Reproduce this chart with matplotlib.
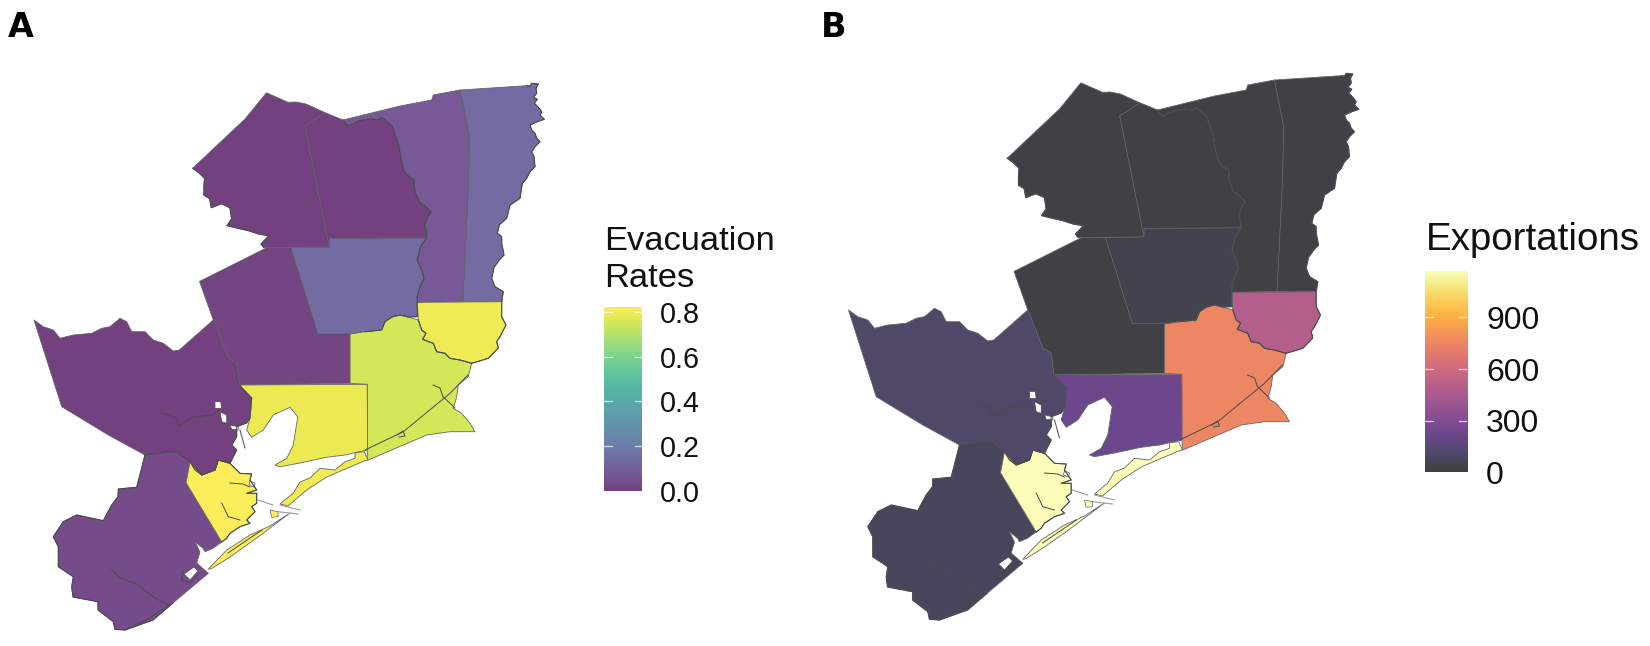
import matplotlib
matplotlib.use("Agg")
import matplotlib.pyplot as plt
import numpy as np
from matplotlib.patches import Polygon
from matplotlib.colors import Normalize

# --- county names and values
counties = ["nw1", "nw2", "col3", "far_east", "central", "west_mid", "west_big",
            "south_west", "brazoria", "bay_east", "jefferson", "orange", "island_w", "island_e"]
evac_rates = [0.0, 0.0, 0.075, 0.14, 0.14, 0.015, 0.0, 0.03, 0.82, 0.79, 0.75, 0.80, 0.82, 0.80]
exportations = [5, 5, 5, 5, 45, 5, 110, 75, 1160, 215, 745, 490, 1160, 1160]
evac_ticks = [0.0, 0.2, 0.4, 0.6, 0.8]
exp_ticks = [0, 300, 600, 900]

# --- shared county borders (map coordinates)
b_nw_top = [(266.4,92.8),(288,102.3),(296,102),(306,104),(324.5,112.4)]
b_nw1_nw2 = [(324.5,113.5),(305.3,126),(329.6,247)]
b_nw1_out = [(263.7,247.6),(261,244),(268.8,235.8),(258.6,234),(248.5,230.7),(236.6,228),(227,225.6),(231.6,218.9),
             (229.9,207.7),(221.4,203.7),(211.3,207.7),(209.6,198.6),(203.9,195.2),(203.9,186.8),(204.5,178.3),
             (199.5,173.3),(192.7,168.2),(245,119)]
b_nw2_top = [(324.5,112.4),(343,120)]
b_river = [(343,120),(348,126),(359,121),(370,119),(378,120),(382,117.5),(392,126),(395.5,136),(399,146.2),(400.6,158),
           (404,171.6),(409,176.6),(414,180),(415,191.8),(419.2,202),(424.3,205.4),(431,212),(427.6,217.2),
           (424.3,225.6),(426.6,232.4),(426.5,238)]
b_central_river = [(426.5,238),(420.7,246.7),(417.3,260),(421.7,270),(424,278.3),(420,286.7),(417.3,296.7),(417.3,302.3)]
b_central_bot = [(417.3,302.3),(417.3,316.7),(408,317),(400,315),(392,317),(385,321.7),(381.7,330),(372,331),(365,331.7),
                 (350,334),(317.8,334)]
b_col3_top = [(343,120),(400,106),(431.7,100),(433.3,95),(460,90)]
b_col3_east = [(460,90),(469.3,136.7),(468.3,186.7),(462.7,301.7)]
b_far_east = [(460,90),(526.7,85.7),(530,86),(531.7,83.3),(538.3,84),(536,88.3),(536.7,93.3),(533.3,97.3),(537.3,99.3),
              (534.3,103.3),(538.3,107.3),(541.7,111.7),(540,115),(544.3,119.3),(537.3,121.7),(530,125),(531.7,130),
              (535,133.3),(536.7,138.3),(540,141.7),(535,146.7),(531.7,151.7),(534,156.7),(535,166.7),(530,171.7),
              (526.7,178.3),(522.3,183.3),(520,198.3),(515,201.7),(510,205),(506.7,218.3),(501.7,222.7),(499.3,225),
              (497.3,233.3),(501.7,236.7),(501.7,243.3),(504,255),(499.3,260),(494,267.3),(491.7,278.3),(495,286.7),
              (503.3,291.7),(501.7,301.7)]
b_orange_south = [(418.3,320),(421.7,330),(426,333.3),(422.7,339.3),(433.3,343.3),(436.7,351.7),(445,353.3),(450,358.3),
                  (460,360),(471.7,363.3)]
b_orange_east = [(501.7,301.7),(501.7,316.7),(506,325),(500,336.7),(496.7,341.7),(498.3,348),(488.3,358.3),(471.7,363.3)]
b_jeff_coast = [(471.7,363.3),(468.3,376.7),(458.3,385),(456.7,396.7),(453.3,408.3),(461.7,413.3),(470,423.3),
                (475,431.7),(450,431.7),(426.7,435),(370,459.3),(367.7,460)]
b_west_mid_east = [(213.3,320),(228.3,358.3),(236.7,363.3),(239.3,385)]
b_west_bay = [(239.3,385),(251.7,398),(250,418),(246.7,423),(236.7,426.7),(236.7,436.7),(231.7,445),(236.7,450),
              (230,463.3),(218.3,460),(215,470),(201.7,475),(195,470),(190,461.7)]
b_west_sw = [(190,461.7),(176.7,451.7),(166.7,451.7),(145,455)]
b_west_out = [(108.3,435),(61.7,406.7),(34,320),(43.3,326.7),(53.3,330),(60,338.3),(73.3,335),(91.7,333.3),(101.7,328.3),
              (110,326.7),(120,318.3),(126.7,321.7),(131.7,331.7),(145,331.7),(153.3,340),(163.3,343.3),(173.3,351),
              (179.3,350),(213.3,320)]
b_sw_out = [(145,455),(136.7,487.3),(118.3,489),(118,496.7),(111.7,505),(103.3,520.7),(76.7,515),(63.3,521.7),
            (53.3,536.7),(58.3,546.7),(58.3,566.7),(73.3,576.7),(71.7,586.7),(73,597),(98,601.7),(98,610),
            (113.3,621.7),(115,629.3),(125,630),(153,620),(173,603),(208.3,573.3),(196.7,563),(200,552),
            (195,541.7),(203,548.3),(205,551.7),(213,548.3),(221.7,542)]
b_braz_west = [(221.7,542),(186,482.7),(190,461.7)]
b_braz_coast = [(190,461.7),(201.7,475),(215,470),(218.3,460),(230,463.3),(240,473.3),(251.7,474),(250,480),(256.7,490),
                (246.7,493.3),(256.7,493.3),(256.7,503.3),(251.7,506.7),(255,511.7),(246.7,520),(250,523.3),(240,526.7),
                (230,533.3),(226.7,538.3),(221.7,542)]
b_east_bay = [(367.3,384.3),(367.5,450),(355,452.7),(345,455),(326.7,457.3),(300,463),(280,466.7),(275,465),
              (286.7,458.3),(293.3,445),(297.7,416.7),(290,407.3),(273.3,415),(263.3,430),(251.7,437.3),(246.7,430),
              (250,418),(251.7,398)]
isl_west = [(208.3,569.3),(226.7,550),(250,535),(270,526),(290,513),(256.7,538),(230,557),(211.7,568.5)]
isl_east = [(280,504),(293.3,493),(300,482),(310,478),(320,468.3),(335,470),(345,461.7),(355,458.3),(355,452.7),
            (364.3,451.7),(368,460),(364,461),(326.7,477),(306.7,490),(288,506)]
isl_small = [(270,510),(278,511.7),(278,516.7),(271.7,517.3)]

outlines = {
    "nw1": b_nw_top + b_nw1_nw2[:] + b_nw1_out,
    "nw2": b_nw2_top + b_river + [(329.6,238.5),(329.6,247)] + b_nw1_nw2[::-1],
    "col3": b_col3_top + b_col3_east + [(417.3,302.3)] + b_central_river[::-1] + b_river[::-1],
    "far_east": b_far_east + b_col3_east[::-1],
    "central": [(290.7,247.6),(329.6,247),(329.6,238.5),(426.5,238)] + b_central_river[1:] + b_central_bot[1:],
    "west_mid": [(199.5,281.4),(267,247.6),(290.7,247.6),(317.8,334),(350,334),(350,383.3),(239.3,385)]
                + b_west_mid_east[::-1],
    "west_big": b_west_mid_east + b_west_bay + b_west_sw + b_west_out,
    "south_west": b_sw_out + b_braz_west[1:] + b_west_sw,
    "brazoria": b_braz_coast + b_braz_west[1:],
    "bay_east": [(239.3,385),(367.3,384.3)] + b_east_bay,
    "jefferson": [(350,334),(365,331.7),(372,331),(381.7,330),(385,321.7),(392,317),(400,315),(408,317),(418.3,320)]
                 + b_orange_south[1:] + b_jeff_coast + [(367.3,384.3),(350,383.3)],
    "orange": [(417.3,302.3),(501.7,301.7)] + b_orange_east[1:] + b_orange_south[::-1],
    "island_w": isl_west,
    "island_e": isl_east,
}
extra_islands = [isl_small]
# wiggly river borders, which read darker in the picture
river_borders = [b_river, b_central_river, b_central_bot[:9], b_far_east[1:], b_orange_south, b_orange_east,
                 b_nw1_out[:-1], b_west_bay, b_west_sw, b_braz_coast, b_sw_out[:21]]
# waterways and canals drawn as plain lines
lines_water = [
    [(161.7,413),(176.7,418),(178,426.7),(193,417),(213,415),(218,410)],
    [(111.7,569.3),(120,578),(136.7,584),(153.3,596.7),(168.3,605)],
    [(221.7,503),(228.3,516.7),(240,520)],
    [(230,483),(243,484),(250,487)],
    [(365,450),(403.3,431.7),(450,393.3),(468,375)],
    [(433,385),(440,388),(443,396.7),(455,408)],
    [(397,435),(403,431),(405,436),(399,437)],
    [(125,630),(150,618),(170,604)],
    [(183,571),(181.7,580),(190,583),(197,575)],
    [(240,430),(245,448)],
    [(228,553),(250,538),(262,530)],
]
holes = [
    [(215,401.7),(220.7,401.7),(221.7,408.3),(215,408.3)],
    [(220,411.7),(226.7,415),(226.7,423.3),(221.7,421.7)],
    [(230,425),(238.3,426.7),(238.3,430),(231.7,429.3)],
    [(184,574),(194,567),(198,571),(190,580)],
    [(250,481),(255,483),(254,487),(249,485)],
]
jetties = [[(258,500),(273,505)],[(280,505),(300,510)],[(278,511.7),(298,514)]]

# --- page geometry in reference pixels
W, H = 1650, 646
EDGE = "#66666a"
DARK = "#4a4a50"
FONT = ["Liberation Sans", "DejaVu Sans"]

fig = plt.figure(figsize=(W/100, H/100), dpi=100, facecolor="white")


def map_panel(x0, yshift, values, cmap, norm):
    ax = fig.add_axes([x0/W, 0, 560/W, 1])
    ax.set_xlim(0, 560)
    ax.set_ylim(H + yshift, yshift)
    ax.axis("off")
    lookup = dict(zip(counties, values))
    for name in counties:
        c = cmap(norm(lookup[name]))
        ax.add_patch(Polygon(outlines[name], closed=True, facecolor=(*c[:3], 0.75), edgecolor=EDGE,
                             linewidth=0.6, joinstyle="round"))
    for p in extra_islands:
        c = cmap(norm(lookup["island_w"]))
        ax.add_patch(Polygon(p, closed=True, facecolor=(*c[:3], 0.75), edgecolor=EDGE, linewidth=0.5))
    for seg in river_borders:
        xs, ys = zip(*seg)
        ax.plot(xs, ys, color=DARK, lw=0.8, solid_joinstyle="round")
    for seg in lines_water:
        xs, ys = zip(*seg)
        ax.plot(xs, ys, color=DARK, lw=0.7)
    for h in holes:
        ax.add_patch(Polygon(h, closed=True, facecolor="white", edgecolor=DARK, linewidth=0.5))
    for seg in jetties:
        xs, ys = zip(*seg)
        ax.plot(xs, ys, color="#9a9a9a", lw=0.8)
    return ax


def colorbar(x0, x1, ytop, ybot, vmin, vmax, ticks, labels, cmap, lab_size, lab_x):
    ax = fig.add_axes([x0/W, 1-ybot/H, (x1-x0)/W, (ybot-ytop)/H])
    grad = np.linspace(vmin, vmax, 256)[:, None]
    ax.imshow(grad, origin="lower", aspect="auto", cmap=cmap, vmin=vmin, vmax=vmax, alpha=0.75,
              extent=[0, 1, vmin, vmax])
    ax.set_xlim(0, 1)
    ax.set_ylim(vmin, vmax)
    ax.set_xticks([])
    ax.yaxis.tick_right()
    ax.set_yticks(ticks)
    ax.set_yticklabels(labels, fontsize=lab_size, family=FONT, color="#111111")
    ax.tick_params(axis="y", length=0, pad=(lab_x - x1) * 0.72)
    for s in ax.spines.values():
        s.set_visible(False)
    for t in ticks:
        if t > vmin:
            ax.plot([0, 0.2], [t, t], color="white", lw=0.9, alpha=0.75)
            ax.plot([0.8, 1], [t, t], color="white", lw=0.9, alpha=0.75)
    return ax


evac_norm = Normalize(0, 0.824)
exp_norm = Normalize(0, 1167)
map_panel(0, 0, evac_rates, plt.get_cmap("viridis"), evac_norm)
map_panel(814.5, 10, exportations, plt.get_cmap("inferno"), exp_norm)

colorbar(604.3, 642.3, 306.7, 490.7, 0, 0.824, evac_ticks, [f"{t:.1f}" for t in evac_ticks],
         "viridis", 20.7, 660)
colorbar(1424.7, 1467, 271.3, 472.4, 0, 1167, exp_ticks, [str(t) for t in exp_ticks],
         "inferno", 23, 1486)

fig.text(604.5/W, 1-250.5/H, "Evacuation", fontsize=24.8, family=FONT, color="#111111", va="baseline")
fig.text(604.5/W, 1-287/H, "Rates", fontsize=24.8, family=FONT, color="#111111", va="baseline")
fig.text(1425.5/W, 1-250/H, "Exportations", fontsize=27.7, family=FONT, color="#111111", va="baseline")
fig.text(8/W, 1-37/H, "A", fontsize=24, family="DejaVu Sans", fontweight="bold", color="black", va="baseline")
fig.text(821/W, 1-37/H, "B", fontsize=24, family="DejaVu Sans", fontweight="bold", color="black", va="baseline")

fig.savefig("out.png", dpi=100, facecolor="white")
